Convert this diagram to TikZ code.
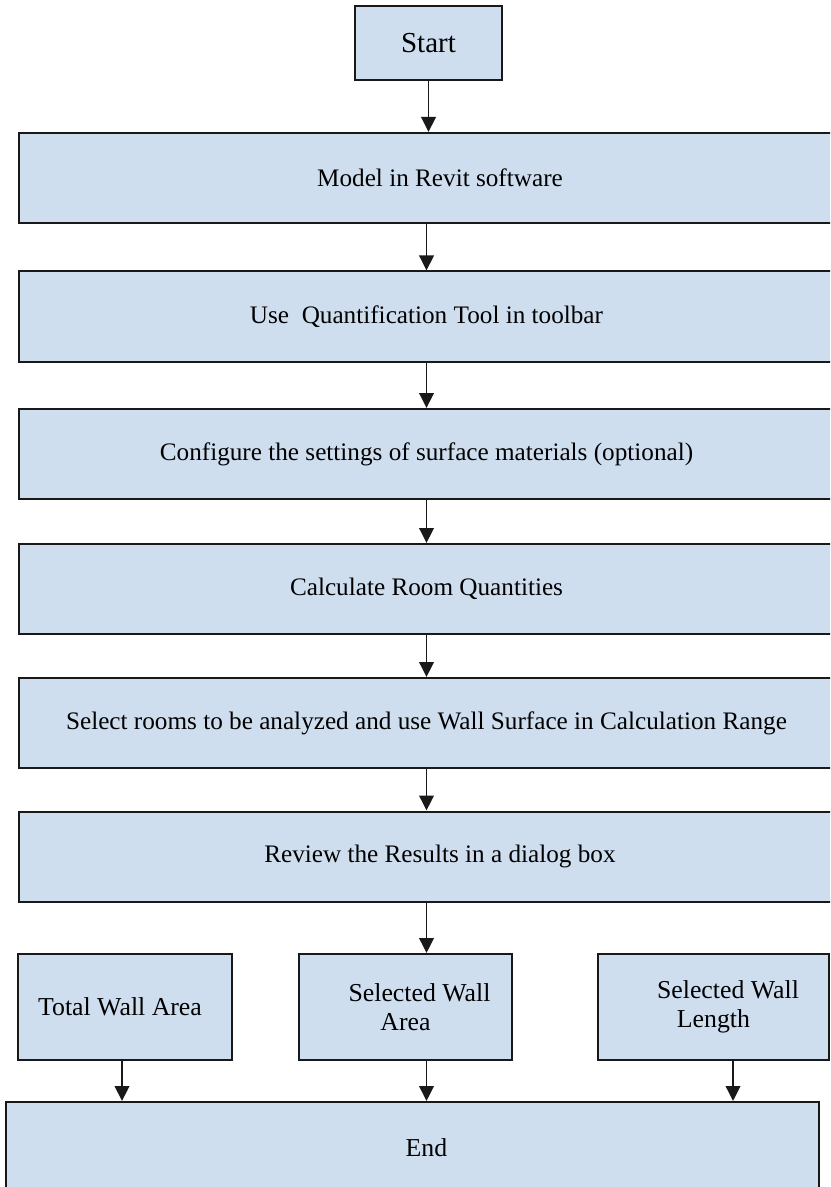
\documentclass[tikz,border=0pt]{standalone}
\usepackage{fontspec}
\setmainfont{Liberation Serif}
\usetikzlibrary{arrows.meta}
\definecolor{boxfill}{RGB}{207,222,239}
\definecolor{edge}{RGB}{25,25,25}
\begin{document}
\begin{tikzpicture}[x=0.5pt,y=-0.5pt,
  box/.style={draw=edge, line width=1pt, fill=boxfill, inner sep=0pt,
    font=\fontsize{12.6}{14.5}\selectfont, align=center},
  wide/.style={box, minimum width=407.5pt, minimum height=45pt},
  result/.style={box, minimum height=53pt, font=\fontsize{12.9}{14.5}\selectfont},
  flow/.style={-{Triangle[width=7.3pt,length=7.5pt]}, line width=0.8pt, draw=edge}]
\useasboundingbox (0,0) rectangle (830,1187);
\clip (0,0) rectangle (830,1187);
\fill[white] (0,0) rectangle (830,1187);

% main sequence of steps
\node[box, minimum width=73.5pt, minimum height=37pt, font=\fontsize{14.5}{16}\selectfont] (start) at (428.5,43) {Start};
\node[wide] (b1) at (426.5,178) {\hspace*{13.5pt}Model in Revit software};
\node[wide] (b2) at (426.5,316.5) {Use\ \ Quantification Tool in toolbar};
\node[wide] (b3) at (426.5,454) {Configure the settings of surface materials (optional)};
\node[wide] (b4) at (426.5,589) {Calculate Room Quantities};
\node[wide] (b5) at (426.5,723) {Select rooms to be analyzed and use Wall Surface in Calculation Range};
\node[wide] (b6) at (426.5,856.5) {\hspace*{13.5pt}Review the Results in a dialog box};

% results row
\node[result, minimum width=107pt] (t1) at (125,1007) {Total Wall Area\hspace*{5pt}};
\node[result, minimum width=106.5pt] (t2) at (405.5,1007) {\hspace*{14pt}Selected Wall\\Area};
\node[result, minimum width=115.5pt] (t3) at (713.5,1007) {\hspace*{14.5pt}Selected Wall\\Length};

% end box
\node[box, minimum width=406.5pt, minimum height=47pt] (end) at (412.5,1149) {};
\node[font=\fontsize{12.9}{14.5}\selectfont, inner sep=0pt] (endtext) at (426.5,1148) {End};

% connectors
\draw[flow] (start.south) -- (start.south |- b1.north);
\draw[flow] (b1.south) -- (b2.north);
\draw[flow] (b2.south) -- (b3.north);
\draw[flow] (b3.south) -- (b4.north);
\draw[flow] (b4.south) -- (b5.north);
\draw[flow] (b5.south) -- (b6.north);
\draw[flow] (b6.south) -- (b6.south |- t2.north);
\draw[flow] ([xshift=-1.5pt]t1.south) -- ([xshift=-1.5pt]t1.south |- end.north);
\draw[flow] (b6.south |- t2.south) -- (b6.south |- end.north);
\draw[flow] ([xshift=9.75pt]t3.south) -- ([xshift=9.75pt]t3.south |- end.north);
\end{tikzpicture}
\end{document}
